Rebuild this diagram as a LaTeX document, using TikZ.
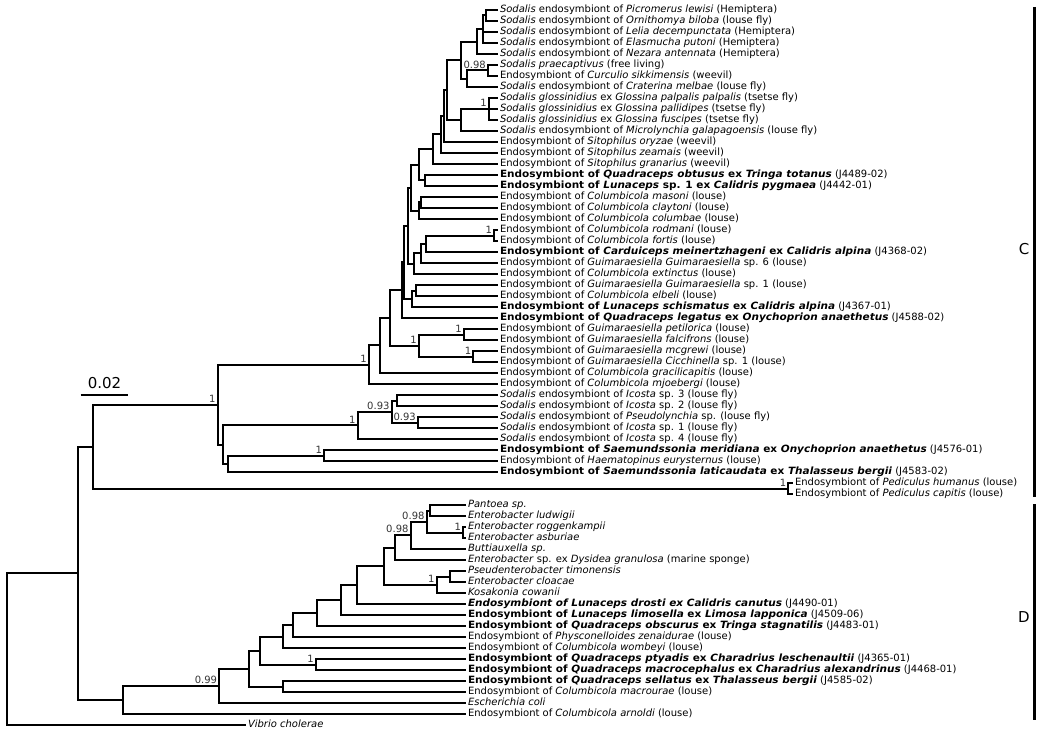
\documentclass[tikz,border=0pt]{standalone}
\usepackage{fontspec}
\setmainfont{DejaVu Sans}[BoldFeatures={FakeStretch=1.05}, BoldItalicFeatures={FakeStretch=1.05}]

\begin{document}
\begin{tikzpicture}[x=1pt, y=-1pt, line width=2pt, line join=miter,
  leaf/.style = {anchor=west, inner sep=1pt, text height=7.3pt, text depth=2.2pt, font=\fontsize{10}{12}\selectfont},
  boot/.style = {anchor=south east, inner sep=1.2pt, text=black!80, font=\fontsize{10}{12}\selectfont},
  clade/.style = {font=\fontsize{15}{17}\selectfont}]
\useasboundingbox (0,0) rectangle (1040,735);

% leaves, clade C
\node[leaf] (picromerus) at (498,10) {\textit{Sodalis} endosymbiont of \textit{Picromerus lewisi} (Hemiptera)};
\node[leaf] (ornithomya) at (498,21) {\textit{Sodalis} endosymbiont of \textit{Ornithomya biloba} (louse fly)};
\node[leaf] (lelia) at (498,32) {\textit{Sodalis} endosymbiont of \textit{Lelia decempunctata} (Hemiptera)};
\node[leaf] (elasmucha) at (498,43) {\textit{Sodalis} endosymbiont of \textit{Elasmucha putoni} (Hemiptera)};
\node[leaf] (nezara) at (498,54) {\textit{Sodalis} endosymbiont of \textit{Nezara antennata} (Hemiptera)};
\node[leaf] (praecaptivus) at (498,65) {\textit{Sodalis praecaptivus} (free living)};
\node[leaf] (curculio) at (498,76) {Endosymbiont of \textit{Curculio sikkimensis} (weevil)};
\node[leaf] (craterina) at (498,87) {\textit{Sodalis} endosymbiont of \textit{Craterina melbae} (louse fly)};
\node[leaf] (palpalis) at (498,98) {\textit{Sodalis glossinidius} ex \textit{Glossina palpalis palpalis} (tsetse fly)};
\node[leaf] (pallidipes) at (498,109) {\textit{Sodalis glossinidius} ex \textit{Glossina pallidipes} (tsetse fly)};
\node[leaf] (fuscipes) at (498,120) {\textit{Sodalis glossinidius} ex \textit{Glossina fuscipes} (tsetse fly)};
\node[leaf] (microlynchia) at (498,131) {\textit{Sodalis} endosymbiont of \textit{Microlynchia galapagoensis} (louse fly)};
\node[leaf] (oryzae) at (498,142) {Endosymbiont of \textit{Sitophilus oryzae} (weevil)};
\node[leaf] (zeamais) at (498,153) {Endosymbiont of \textit{Sitophilus zeamais} (weevil)};
\node[leaf] (granarius) at (498,164) {Endosymbiont of \textit{Sitophilus granarius} (weevil)};
\node[leaf] (obtusus) at (498,175) {\textbf{Endosymbiont of \textit{Quadraceps obtusus} ex \textit{Tringa totanus}} (J4489-02)};
\node[leaf] (lunaceps) at (498,186) {\textbf{Endosymbiont of \textit{Lunaceps} sp. 1 ex \textit{Calidris pygmaea}} (J4442-01)};
\node[leaf] (masoni) at (498,197) {Endosymbiont of \textit{Columbicola masoni} (louse)};
\node[leaf] (claytoni) at (498,208) {Endosymbiont of \textit{Columbicola claytoni} (louse)};
\node[leaf] (columbae) at (498,219) {Endosymbiont of \textit{Columbicola columbae} (louse)};
\node[leaf] (rodmani) at (498,230) {Endosymbiont of \textit{Columbicola rodmani} (louse)};
\node[leaf] (fortis) at (498,241) {Endosymbiont of \textit{Columbicola fortis} (louse)};
\node[leaf] (carduiceps) at (498,252) {\textbf{Endosymbiont of \textit{Carduiceps meinertzhageni} ex \textit{Calidris alpina}} (J4368-02)};
\node[leaf] (guim6) at (498,263) {Endosymbiont of \textit{Guimaraesiella Guimaraesiella} sp. 6 (louse)};
\node[leaf] (extinctus) at (498,274) {Endosymbiont of \textit{Columbicola extinctus} (louse)};
\node[leaf] (guim1) at (498,285) {Endosymbiont of \textit{Guimaraesiella Guimaraesiella} sp. 1 (louse)};
\node[leaf] (elbeli) at (498,296) {Endosymbiont of \textit{Columbicola elbeli} (louse)};
\node[leaf] (schismatus) at (498,307) {\textbf{Endosymbiont of \textit{Lunaceps schismatus} ex \textit{Calidris alpina}} (J4367-01)};
\node[leaf] (legatus) at (498,318) {\textbf{Endosymbiont of \textit{Quadraceps legatus} ex \textit{Onychoprion anaethetus}} (J4588-02)};
\node[leaf] (petilorica) at (498,329) {Endosymbiont of \textit{Guimaraesiella petilorica} (louse)};
\node[leaf] (falcifrons) at (498,340) {Endosymbiont of \textit{Guimaraesiella falcifrons} (louse)};
\node[leaf] (mcgrewi) at (498,351) {Endosymbiont of \textit{Guimaraesiella mcgrewi} (louse)};
\node[leaf] (cicchinella) at (498,362) {Endosymbiont of \textit{Guimaraesiella Cicchinella} sp. 1 (louse)};
\node[leaf] (gracilicapitis) at (498,373) {Endosymbiont of \textit{Columbicola gracilicapitis} (louse)};
\node[leaf] (mjoebergi) at (498,384) {Endosymbiont of \textit{Columbicola mjoebergi} (louse)};
\node[leaf] (icosta3) at (498,395) {\textit{Sodalis} endosymbiont of \textit{Icosta} sp. 3 (louse fly)};
\node[leaf] (icosta2) at (498,406) {\textit{Sodalis} endosymbiont of \textit{Icosta} sp. 2 (louse fly)};
\node[leaf] (pseudolynchia) at (498,417) {\textit{Sodalis} endosymbiont of \textit{Pseudolynchia} sp. (louse fly)};
\node[leaf] (icosta1) at (498,428) {\textit{Sodalis} endosymbiont of \textit{Icosta} sp. 1 (louse fly)};
\node[leaf] (icosta4) at (498,439) {\textit{Sodalis} endosymbiont of \textit{Icosta} sp. 4 (louse fly)};
\node[leaf] (meridiana) at (498,450) {\textbf{Endosymbiont of \textit{Saemundssonia meridiana} ex \textit{Onychoprion anaethetus}} (J4576-01)};
\node[leaf] (haematopinus) at (498,461) {Endosymbiont of \textit{Haematopinus eurysternus} (louse)};
\node[leaf] (laticaudata) at (498,472) {\textbf{Endosymbiont of \textit{Saemundssonia laticaudata} ex \textit{Thalasseus bergii}} (J4583-02)};
\node[leaf] (humanus) at (793,483) {Endosymbiont of \textit{Pediculus humanus} (louse)};
\node[leaf] (capitis) at (793,494) {Endosymbiont of \textit{Pediculus capitis} (louse)};

% leaves, clade D
\node[leaf] (pantoea) at (466,505) {\textit{Pantoea sp.}};
\node[leaf] (ludwigii) at (466,516) {\textit{Enterobacter ludwigii}};
\node[leaf] (roggenkampii) at (466,527) {\textit{Enterobacter roggenkampii}};
\node[leaf] (asburiae) at (466,538) {\textit{Enterobacter asburiae}};
\node[leaf] (buttiauxella) at (466,549) {\textit{Buttiauxella sp.}};
\node[leaf] (dysidea) at (466,560) {\textit{Enterobacter} sp. ex \textit{Dysidea granulosa} (marine sponge)};
\node[leaf] (timonensis) at (466,571) {\textit{Pseudenterobacter timonensis}};
\node[leaf] (cloacae) at (466,582) {\textit{Enterobacter cloacae}};
\node[leaf] (kosakonia) at (466,593) {\textit{Kosakonia cowanii}};
\node[leaf] (drosti) at (466,604) {\textbf{\textit{Endosymbiont of Lunaceps drosti ex Calidris canutus}} (J4490-01)};
\node[leaf] (limosella) at (466,615) {\textbf{Endosymbiont of \textit{Lunaceps limosella} ex \textit{Limosa lapponica}} (J4509-06)};
\node[leaf] (obscurus) at (466,626) {\textbf{Endosymbiont of \textit{Quadraceps obscurus} ex \textit{Tringa stagnatilis}} (J4483-01)};
\node[leaf] (physconelloides) at (466,637) {Endosymbiont of \textit{Physconelloides zenaidurae} (louse)};
\node[leaf] (wombeyi) at (466,648) {Endosymbiont of \textit{Columbicola wombeyi} (louse)};
\node[leaf] (ptyadis) at (466,659) {\textbf{Endosymbiont of \textit{Quadraceps ptyadis} ex \textit{Charadrius leschenaultii}} (J4365-01)};
\node[leaf] (macrocephalus) at (466,670) {\textbf{Endosymbiont of \textit{Quadraceps macrocephalus} ex \textit{Charadrius alexandrinus}} (J4468-01)};
\node[leaf] (sellatus) at (466,681) {\textbf{Endosymbiont of \textit{Quadraceps sellatus} ex \textit{Thalasseus bergii}} (J4585-02)};
\node[leaf] (macrourae) at (466,692) {Endosymbiont of \textit{Columbicola macrourae} (louse)};
\node[leaf] (coli) at (466,703) {\textit{Escherichia coli}};
\node[leaf] (arnoldi) at (466,714) {Endosymbiont of \textit{Columbicola arnoldi} (louse)};
\node[leaf] (vibrio) at (246,725) {\textit{Vibrio cholerae}};

% internal nodes, clade C
\coordinate (a1) at (486,15.5);
\coordinate (a2) at (483,29.25);
\coordinate (a3) at (477,41.6);
\coordinate (a4) at (488,70.5);
\coordinate (a5) at (467,78.75);
\coordinate (a6) at (461,60.2);
\coordinate (a7) at (489,109);
\coordinate (a8) at (461,120);
\coordinate (a9) at (447,90.1);
\coordinate (a10) at (443.5,116);
\coordinate (a11) at (441,134.5);
\coordinate (a12) at (432.5,149.3);
\coordinate (b1) at (424.5,180.5);
\coordinate (b2) at (419,164.9);
\coordinate (b3) at (420.7,202.5);
\coordinate (b4) at (419,210.75);
\coordinate (b5) at (410.7,187.8);
\coordinate (b6) at (494.3,235.5);
\coordinate (b7) at (426,243.75);
\coordinate (b8) at (420.7,253.4);
\coordinate (b9) at (414.3,263.7);
\coordinate (b10) at (408.3,225.75);
\coordinate (b11) at (416,290.5);
\coordinate (b12) at (412.3,298.75);
\coordinate (b13) at (404,262.25);
\coordinate (b14) at (401.5,290.1);
\coordinate (g1) at (464,334.5);
\coordinate (g2) at (473.4,356.5);
\coordinate (g3) at (419,345.5);
\coordinate (b15) at (389.5,317.8);
\coordinate (b16) at (380,345.4);
\coordinate (b17) at (369,364.7);
\coordinate (i1) at (396.7,400.5);
\coordinate (i2) at (418,422.5);
\coordinate (i3) at (391.7,411.5);
\coordinate (i4) at (357.7,425.25);
\coordinate (s1) at (324.3,455.5);
\coordinate (s2) at (227.7,463.75);
\coordinate (s3) at (223.3,444.5);
\coordinate (c1) at (217.7,404.6);
\coordinate (p1) at (788.3,488.5);
\coordinate (c2) at (93.3,446.55);

% internal nodes, clade D and root
\coordinate (e1) at (429.5,510.5);
\coordinate (e2) at (463.3,532.5);
\coordinate (e3) at (426.7,521.5);
\coordinate (e4) at (410.7,535.25);
\coordinate (e5) at (395,547.6);
\coordinate (e6) at (450,576.5);
\coordinate (e7) at (436.7,584.75);
\coordinate (e8) at (384.3,566.2);
\coordinate (d1) at (356.7,585.1);
\coordinate (d2) at (340.7,600);
\coordinate (d3) at (317.3,613);
\coordinate (d4) at (292.7,625);
\coordinate (d5) at (283.3,636.5);
\coordinate (d6) at (316,664.5);
\coordinate (d7) at (260,650.5);
\coordinate (d8) at (282.7,686.5);
\coordinate (d9) at (249.3,668.5);
\coordinate (d10) at (219.3,685.75);
\coordinate (d11) at (123.3,699.9);
\coordinate (r1) at (77.7,573.2);
\coordinate (r0) at (6.7,649.1);

% branches, clade C
\draw (a1) |- (picromerus.west);
\draw (a1) |- (ornithomya.west);
\draw (a2) |- (a1);
\draw (a2) |- (lelia.west);
\draw (a2) |- (elasmucha.west);
\draw (a3) |- (a2);
\draw (a3) |- (nezara.west);
\draw (a4) |- (praecaptivus.west);
\draw (a4) |- (curculio.west);
\draw (a5) |- (a4);
\draw (a5) |- (craterina.west);
\draw (a6) |- (a3);
\draw (a6) |- (a5);
\draw (a7) |- (palpalis.west);
\draw (a7) |- (pallidipes.west);
\draw (a7) |- (fuscipes.west);
\draw (a8) |- (a7);
\draw (a8) |- (microlynchia.west);
\draw (a9) |- (a6);
\draw (a9) |- (a8);
\draw (a10) |- (a9);
\draw (a10) |- (oryzae.west);
\draw (a11) |- (a10);
\draw (a11) |- (zeamais.west);
\draw (a12) |- (a11);
\draw (a12) |- (granarius.west);
\draw (b1) |- (obtusus.west);
\draw (b1) |- (lunaceps.west);
\draw (b2) |- (a12);
\draw (b2) |- (b1);
\draw (b3) |- (masoni.west);
\draw (b3) |- (claytoni.west);
\draw (b4) |- (b3);
\draw (b4) |- (columbae.west);
\draw (b5) |- (b2);
\draw (b5) |- (b4);
\draw (b6) |- (rodmani.west);
\draw (b6) |- (fortis.west);
\draw (b7) |- (b6);
\draw (b7) |- (carduiceps.west);
\draw (b8) |- (b7);
\draw (b8) |- (guim6.west);
\draw (b9) |- (b8);
\draw (b9) |- (extinctus.west);
\draw (b10) |- (b5);
\draw (b10) |- (b9);
\draw (b11) |- (guim1.west);
\draw (b11) |- (elbeli.west);
\draw (b12) |- (b11);
\draw (b12) |- (schismatus.west);
\draw (b13) |- (b10);
\draw (b13) |- (b12);
\draw (b14) |- (b13);
\draw (b14) |- (legatus.west);
\draw (g1) |- (petilorica.west);
\draw (g1) |- (falcifrons.west);
\draw (g2) |- (mcgrewi.west);
\draw (g2) |- (cicchinella.west);
\draw (g3) |- (g1);
\draw (g3) |- (g2);
\draw (b15) |- (b14);
\draw (b15) |- (g3);
\draw (b16) |- (b15);
\draw (b16) |- (gracilicapitis.west);
\draw (b17) |- (b16);
\draw (b17) |- (mjoebergi.west);
\draw (i1) |- (icosta3.west);
\draw (i1) |- (icosta2.west);
\draw (i2) |- (pseudolynchia.west);
\draw (i2) |- (icosta1.west);
\draw (i3) |- (i1);
\draw (i3) |- (i2);
\draw (i4) |- (i3);
\draw (i4) |- (icosta4.west);
\draw (s1) |- (meridiana.west);
\draw (s1) |- (haematopinus.west);
\draw (s2) |- (s1);
\draw (s2) |- (laticaudata.west);
\draw (s3) |- (i4);
\draw (s3) |- (s2);
\draw (c1) |- (b17);
\draw (c1) |- (s3);
\draw (p1) |- (humanus.west);
\draw (p1) |- (capitis.west);
\draw (c2) |- (c1);
\draw (c2) |- (p1);

% branches, clade D and root
\draw (e1) |- (pantoea.west);
\draw (e1) |- (ludwigii.west);
\draw (e2) |- (roggenkampii.west);
\draw (e2) |- (asburiae.west);
\draw (e3) |- (e1);
\draw (e3) |- (e2);
\draw (e4) |- (e3);
\draw (e4) |- (buttiauxella.west);
\draw (e5) |- (e4);
\draw (e5) |- (dysidea.west);
\draw (e6) |- (timonensis.west);
\draw (e6) |- (cloacae.west);
\draw (e7) |- (e6);
\draw (e7) |- (kosakonia.west);
\draw (e8) |- (e5);
\draw (e8) |- (e7);
\draw (d1) |- (e8);
\draw (d1) |- (drosti.west);
\draw (d2) |- (d1);
\draw (d2) |- (limosella.west);
\draw (d3) |- (d2);
\draw (d3) |- (obscurus.west);
\draw (d4) |- (d3);
\draw (d4) |- (physconelloides.west);
\draw (d5) |- (d4);
\draw (d5) |- (wombeyi.west);
\draw (d6) |- (ptyadis.west);
\draw (d6) |- (macrocephalus.west);
\draw (d7) |- (d5);
\draw (d7) |- (d6);
\draw (d8) |- (sellatus.west);
\draw (d8) |- (macrourae.west);
\draw (d9) |- (d7);
\draw (d9) |- (d8);
\draw (d10) |- (d9);
\draw (d10) |- (coli.west);
\draw (d11) |- (d10);
\draw (d11) |- (arnoldi.west);
\draw (r1) |- (c2);
\draw (r1) |- (d11);
\draw (r0) |- (r1);
\draw (r0) |- (vibrio.west);

% support values
\node[boot] (ba4) at (a4) {0.98};
\node[boot] (ba7) at (a7) {1};
\node[boot] (bb6) at (b6) {1};
\node[boot] (bg1) at (g1) {1};
\node[boot] (bg2) at (g2) {1};
\node[boot] (bg3) at (g3) {1};
\node[boot] (bb17) at (b17) {1};
\node[boot] (bi2) at (i2) {0.93};
\node[boot] (bi3) at (i3) {0.93};
\node[boot] (bi4) at (i4) {1};
\node[boot] (bs1) at (s1) {1};
\node[boot] (bc1) at (c1) {1};
\node[boot] (bp1) at (p1) {1};
\node[boot] (be2) at (e2) {1};
\node[boot] (be3) at (e3) {0.98};
\node[boot] (be4) at (e4) {0.98};
\node[boot] (be7) at (e7) {1};
\node[boot] (bd6) at (d6) {1};
\node[boot] (bd10) at (d10) {0.99};

% scale bar
\coordinate (sbl) at (80.7,395);
\coordinate (sbr) at (128.3,395);
\draw[line width=1.5pt] (sbl) -- (sbr);
\node[clade] (sbtext) at (104.5,383) {0.02};

% clade bars
\coordinate (ctop) at (1034,7);
\coordinate (cbot) at (1034,497);
\coordinate (dtop) at (1034,504);
\coordinate (dbot) at (1034,720);
\draw[line width=3pt] (ctop) -- (cbot);
\draw[line width=3pt] (dtop) -- (dbot);
\node[clade] (cname) at (1024,249) {C};
\node[clade] (dname) at (1024,617) {D};
\end{tikzpicture}
\end{document}
